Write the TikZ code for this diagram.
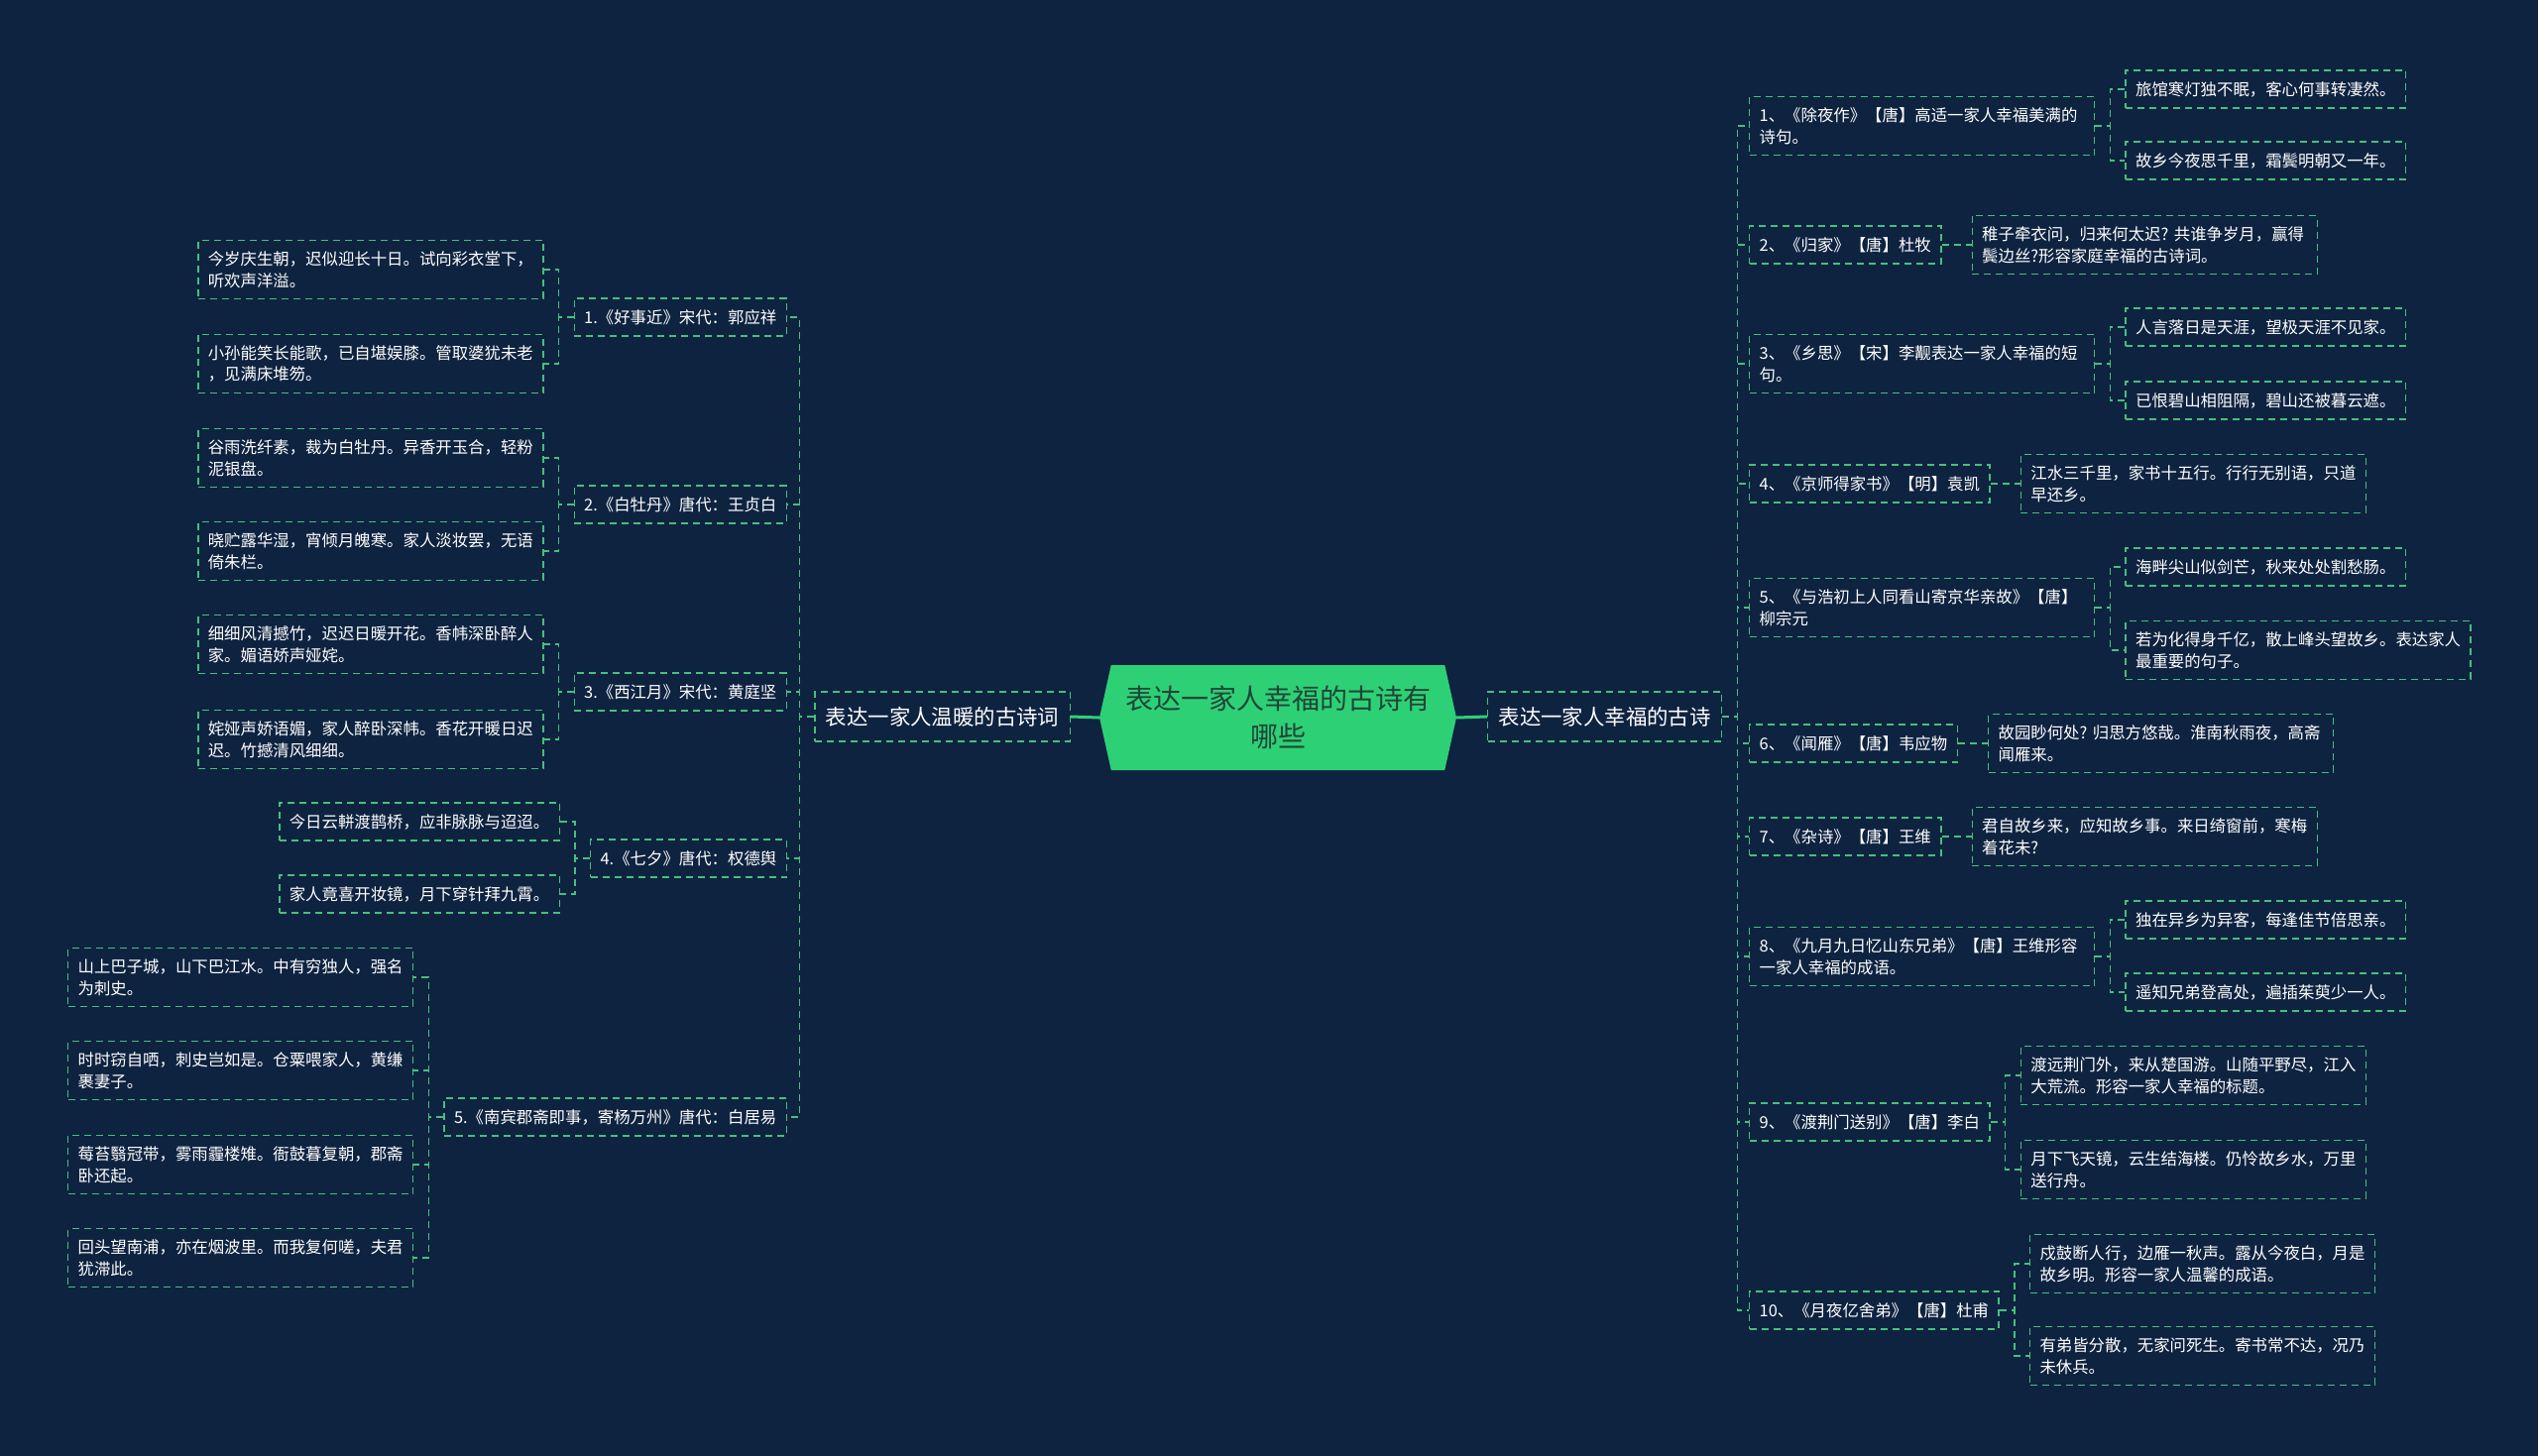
\documentclass[tikz,border=0pt]{standalone}
\usepackage{fontspec}
\setmainfont{Noto Sans CJK SC}
\usetikzlibrary{positioning,shapes.symbols}

\definecolor{fundo}{RGB}{14,35,64}
\definecolor{verde}{RGB}{72,190,126}
\definecolor{raiz}{RGB}{46,208,118}
\definecolor{raiztexto}{RGB}{30,70,55}

\begin{document}
\begin{tikzpicture}[
    x=1pt, y=-1pt,
    leaf/.style={draw=verde, line width=1.4pt, dash pattern=on 7pt off 5pt, text=white,
      align=left, inner xsep=10pt, inner ysep=11pt, minimum height=38pt,
      font=\fontsize{16.4}{21.7}\selectfont},
    wrap/.style={text width=328pt},
    branch/.style={leaf, inner xsep=11pt, minimum height=50pt, font=\fontsize{21.4}{26}\selectfont},
    link/.style={verde, line width=1.4pt, dash pattern=on 7pt off 5pt},
    trunk/.style={raiz, line width=3pt},
  ]
  \useasboundingbox (0,0) rectangle (2560,1469);
  \fill[fundo] (0,0) rectangle (2560,1469);

  % Centro
  \node[signal, signal to=west and east, signal pointer angle=155, fill=raiz, text=raiztexto,
    align=center, minimum width=360pt, minimum height=106pt, inner sep=2pt,
    font=\fontsize{28}{38}\selectfont] (root) at (1289,724) {表达一家人幸福的古诗有\\哪些};
  \node[branch, anchor=east] (ml) at (1080,723) {表达一家人温暖的古诗词};
  \node[branch, anchor=west] (mr) at (1500,723) {表达一家人幸福的古诗};

  % Lado esquerdo
  \node[leaf, anchor=east] (s1) at (794,320) {1.《好事近》宋代：郭应祥};
  \node[leaf, anchor=east] (s2) at (794,509) {2.《白牡丹》唐代：王贞白};
  \node[leaf, anchor=east] (s3) at (794,698) {3.《西江月》宋代：黄庭坚};
  \node[leaf, anchor=east] (s4) at (794,866) {4.《七夕》唐代：权德舆};
  \node[leaf, anchor=east] (s5) at (794,1127) {5.《南宾郡斋即事，寄杨万州》唐代：白居易};

  \node[leaf, wrap, left=30pt of s1, yshift=48pt] (s1a) {今岁庆生朝，迟似迎长十日。试向彩衣堂下，\\听欢声洋溢。};
  \node[leaf, wrap, left=30pt of s1, yshift=-47pt] (s1b) {小孙能笑长能歌，已自堪娱膝。管取婆犹未老\\，见满床堆笏。};
  \node[leaf, wrap, left=30pt of s2, yshift=47pt] (s2a) {谷雨洗纤素，裁为白牡丹。异香开玉合，轻粉\\泥银盘。};
  \node[leaf, wrap, left=30pt of s2, yshift=-47pt] (s2b) {晓贮露华湿，宵倾月魄寒。家人淡妆罢，无语\\倚朱栏。};
  \node[leaf, wrap, left=30pt of s3, yshift=48pt] (s3a) {细细风清撼竹，迟迟日暖开花。香帏深卧醉人\\家。媚语娇声娅姹。};
  \node[leaf, wrap, left=30pt of s3, yshift=-48pt] (s3b) {姹娅声娇语媚，家人醉卧深帏。香花开暖日迟\\迟。竹撼清风细细。};
  \node[leaf, left=30pt of s4, yshift=37pt] (s4a) {今日云軿渡鹊桥，应非脉脉与迢迢。};
  \node[leaf, left=30pt of s4, yshift=-36pt] (s4b) {家人竟喜开妆镜，月下穿针拜九霄。};
  \node[leaf, wrap, left=30pt of s5, yshift=141pt] (s5a) {山上巴子城，山下巴江水。中有穷独人，强名\\为刺史。};
  \node[leaf, wrap, left=30pt of s5, yshift=47pt] (s5b) {时时窃自哂，刺史岂如是。仓粟喂家人，黄缣\\裹妻子。};
  \node[leaf, wrap, left=30pt of s5, yshift=-48pt] (s5c) {莓苔翳冠带，雾雨霾楼雉。衙鼓暮复朝，郡斋\\卧还起。};
  \node[leaf, wrap, left=30pt of s5, yshift=-142pt] (s5d) {回头望南浦，亦在烟波里。而我复何嗟，夫君\\犹滞此。};

  % Lado direito
  \node[leaf, wrap, anchor=west] (r1) at (1764,127) {1、《除夜作》【唐】高适一家人幸福美满的\\诗句。};
  \node[leaf, anchor=west] (r2) at (1764,247) {2、《归家》【唐】杜牧};
  \node[leaf, wrap, anchor=west] (r3) at (1764,367) {3、《乡思》【宋】李觏表达一家人幸福的短\\句。};
  \node[leaf, anchor=west] (r4) at (1764,488) {4、《京师得家书》【明】袁凯};
  \node[leaf, wrap, anchor=west] (r5) at (1764,613) {5、《与浩初上人同看山寄京华亲故》【唐】\\柳宗元};
  \node[leaf, anchor=west] (r6) at (1764,750) {6、《闻雁》【唐】韦应物};
  \node[leaf, anchor=west] (r7) at (1764,844) {7、《杂诗》【唐】王维};
  \node[leaf, wrap, anchor=west] (r8) at (1764,965) {8、《九月九日忆山东兄弟》【唐】王维形容\\一家人幸福的成语。};
  \node[leaf, anchor=west] (r9) at (1764,1132) {9、《渡荆门送别》【唐】李白};
  \node[leaf, anchor=west] (r10) at (1764,1322) {10、《月夜亿舍弟》【唐】杜甫};

  \node[leaf, right=30pt of r1, yshift=37pt] (r1a) {旅馆寒灯独不眠，客心何事转凄然。};
  \node[leaf, right=30pt of r1, yshift=-35pt] (r1b) {故乡今夜思千里，霜鬓明朝又一年。};
  \node[leaf, wrap, right=30pt of r2] (r2a) {稚子牵衣问，归来何太迟?~共谁争岁月，赢得\\鬓边丝?形容家庭幸福的古诗词。};
  \node[leaf, right=30pt of r3, yshift=37pt] (r3a) {人言落日是天涯，望极天涯不见家。};
  \node[leaf, right=30pt of r3, yshift=-37pt] (r3b) {已恨碧山相阻隔，碧山还被暮云遮。};
  \node[leaf, wrap, right=30pt of r4] (r4a) {江水三千里，家书十五行。行行无别语，只道\\早还乡。};
  \node[leaf, right=30pt of r5, yshift=41pt] (r5a) {海畔尖山似剑芒，秋来处处割愁肠。};
  \node[leaf, wrap, right=30pt of r5, yshift=-43pt] (r5b) {若为化得身千亿，散上峰头望故乡。表达家人\\最重要的句子。};
  \node[leaf, wrap, right=30pt of r6] (r6a) {故园眇何处?~归思方悠哉。淮南秋雨夜，高斋\\闻雁来。};
  \node[leaf, wrap, right=30pt of r7] (r7a) {君自故乡来，应知故乡事。来日绮窗前，寒梅\\着花未?};
  \node[leaf, right=30pt of r8, yshift=37pt] (r8a) {独在异乡为异客，每逢佳节倍思亲。};
  \node[leaf, right=30pt of r8, yshift=-36pt] (r8b) {遥知兄弟登高处，遍插茱萸少一人。};
  \node[leaf, wrap, right=30pt of r9, yshift=47pt] (r9a) {渡远荆门外，来从楚国游。山随平野尽，江入\\大荒流。形容一家人幸福的标题。};
  \node[leaf, wrap, right=30pt of r9, yshift=-48pt] (r9b) {月下飞天镜，云生结海楼。仍怜故乡水，万里\\送行舟。};
  \node[leaf, wrap, right=30pt of r10, yshift=47pt] (r10a) {戍鼓断人行，边雁一秋声。露从今夜白，月是\\故乡明。形容一家人温馨的成语。};
  \node[leaf, wrap, right=30pt of r10, yshift=-46pt] (r10b) {有弟皆分散，无家问死生。寄书常不达，况乃\\未休兵。};

  % Ligacoes
  \draw[trunk] (root.west) -- (ml.east);
  \draw[trunk] (root.east) -- (mr.west);

  \draw[link] (ml.west) -- ++(-15,0) |- (s1.east);
  \draw[link] (ml.west) -- ++(-15,0) |- (s2.east);
  \draw[link] (ml.west) -- ++(-15,0) |- (s3.east);
  \draw[link] (ml.west) -- ++(-15,0) |- (s4.east);
  \draw[link] (ml.west) -- ++(-15,0) |- (s5.east);
  \draw[link] (s1.west) -- ++(-15,0) |- (s1a.east);
  \draw[link] (s1.west) -- ++(-15,0) |- (s1b.east);
  \draw[link] (s2.west) -- ++(-15,0) |- (s2a.east);
  \draw[link] (s2.west) -- ++(-15,0) |- (s2b.east);
  \draw[link] (s3.west) -- ++(-15,0) |- (s3a.east);
  \draw[link] (s3.west) -- ++(-15,0) |- (s3b.east);
  \draw[link] (s4.west) -- ++(-15,0) |- (s4a.east);
  \draw[link] (s4.west) -- ++(-15,0) |- (s4b.east);
  \draw[link] (s5.west) -- ++(-15,0) |- (s5a.east);
  \draw[link] (s5.west) -- ++(-15,0) |- (s5b.east);
  \draw[link] (s5.west) -- ++(-15,0) |- (s5c.east);
  \draw[link] (s5.west) -- ++(-15,0) |- (s5d.east);

  \draw[link] (mr.east) -- ++(15,0) |- (r1.west);
  \draw[link] (mr.east) -- ++(15,0) |- (r2.west);
  \draw[link] (mr.east) -- ++(15,0) |- (r3.west);
  \draw[link] (mr.east) -- ++(15,0) |- (r4.west);
  \draw[link] (mr.east) -- ++(15,0) |- (r5.west);
  \draw[link] (mr.east) -- ++(15,0) |- (r6.west);
  \draw[link] (mr.east) -- ++(15,0) |- (r7.west);
  \draw[link] (mr.east) -- ++(15,0) |- (r8.west);
  \draw[link] (mr.east) -- ++(15,0) |- (r9.west);
  \draw[link] (mr.east) -- ++(15,0) |- (r10.west);
  \draw[link] (r1.east) -- ++(15,0) |- (r1a.west);
  \draw[link] (r1.east) -- ++(15,0) |- (r1b.west);
  \draw[link] (r2.east) -- (r2a.west);
  \draw[link] (r3.east) -- ++(15,0) |- (r3a.west);
  \draw[link] (r3.east) -- ++(15,0) |- (r3b.west);
  \draw[link] (r4.east) -- (r4a.west);
  \draw[link] (r5.east) -- ++(15,0) |- (r5a.west);
  \draw[link] (r5.east) -- ++(15,0) |- (r5b.west);
  \draw[link] (r6.east) -- (r6a.west);
  \draw[link] (r7.east) -- (r7a.west);
  \draw[link] (r8.east) -- ++(15,0) |- (r8a.west);
  \draw[link] (r8.east) -- ++(15,0) |- (r8b.west);
  \draw[link] (r9.east) -- ++(15,0) |- (r9a.west);
  \draw[link] (r9.east) -- ++(15,0) |- (r9b.west);
  \draw[link] (r10.east) -- ++(15,0) |- (r10a.west);
  \draw[link] (r10.east) -- ++(15,0) |- (r10b.west);
\end{tikzpicture}
\end{document}
